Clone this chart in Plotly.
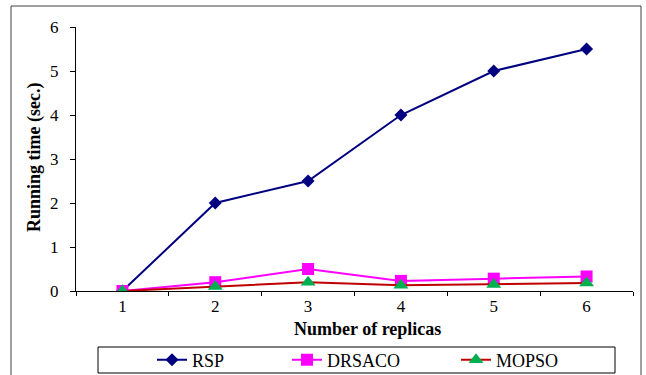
import plotly.graph_objects as go

categories = ["1", "2", "3", "4", "5", "6"]
rsp = [0.0, 2.0, 2.5, 4.0, 5.0, 5.5]
drsaco = [0.0, 0.2, 0.5, 0.23, 0.28, 0.33]
mopso = [0.0, 0.1, 0.2, 0.13, 0.15, 0.18]
y_ticks = [0, 1, 2, 3, 4, 5, 6]

W, H = 646, 375
L, R, T, B = 76, 13, 27, 84
PW, PH = W - L - R, H - T - B

def px(x):
    return (x - L) / PW

def py(y):
    return (H - B - y) / PH

FONT = "Times New Roman, Liberation Serif, DejaVu Serif, serif"

fig = go.Figure()
fig.add_trace(go.Scatter(
    x=categories, y=rsp, name="RSP", mode="lines+markers",
    line=dict(color="#000080", width=2),
    marker=dict(symbol="diamond", size=10, color="#000080"),
    legend="legend"))
fig.add_trace(go.Scatter(
    x=categories, y=drsaco, name="DRSACO", mode="lines+markers",
    line=dict(color="#FF00FF", width=2),
    marker=dict(symbol="square", size=12, color="#FF00FF"),
    legend="legend2"))
fig.add_trace(go.Scatter(
    x=categories, y=mopso, name="MOPSO", mode="lines+markers",
    line=dict(color="#C00000", width=2),
    marker=dict(symbol="triangle-up", size=13, color="#00B050"),
    legend="legend3"))

leg_common = dict(orientation="h", yanchor="middle", y=py(360), xanchor="left",
                  font=dict(family=FONT, size=18, color="black"),
                  bgcolor="rgba(0,0,0,0)", borderwidth=0)
fig.update_layout(
    width=W, height=H,
    margin=dict(l=L, r=R, t=T, b=B, pad=0, autoexpand=False),
    paper_bgcolor="white", plot_bgcolor="white",
    font=dict(family=FONT, size=17, color="black"),
    showlegend=True,
    legend=dict(x=px(152), **leg_common),
    legend2=dict(x=px(287), **leg_common),
    legend3=dict(x=px(456), **leg_common),
    xaxis=dict(type="category", range=[-0.5, 5.5], tickson="boundaries",
               ticks="outside", ticklen=4, tickcolor="black",
               showline=True, linecolor="black", linewidth=1,
               showgrid=False, zeroline=False,
               tickfont=dict(family=FONT, size=17, color="black")),
    yaxis=dict(range=[0, 6], tickvals=y_ticks, ticks="outside", ticklen=5,
               tickcolor="black", showline=True, linecolor="black", linewidth=1,
               showgrid=False, zeroline=False, ticklabelstandoff=8,
               tickfont=dict(family=FONT, size=17, color="black")),
    shapes=[
        dict(type="rect", xref="paper", yref="paper",
             x0=px(11), x1=px(641), y0=py(400), y1=py(6),
             line=dict(color="#404040", width=1), fillcolor="rgba(0,0,0,0)"),
        dict(type="rect", xref="paper", yref="paper",
             x0=px(98), x1=px(615), y0=py(373), y1=py(347),
             line=dict(color="black", width=1), fillcolor="rgba(0,0,0,0)"),
    ],
    annotations=[
        dict(text="<b>Number of replicas</b>", xref="paper", yref="paper",
             x=px(367), y=py(329), xanchor="center", yanchor="middle",
             showarrow=False, font=dict(family=FONT, size=18, color="black")),
        dict(text="<b>Running time (sec.)</b>", xref="paper", yref="paper",
             x=px(34), y=py(157), xanchor="center", yanchor="middle",
             textangle=-90, showarrow=False,
             font=dict(family=FONT, size=18, color="black")),
    ],
)

fig.write_html("out.html")
